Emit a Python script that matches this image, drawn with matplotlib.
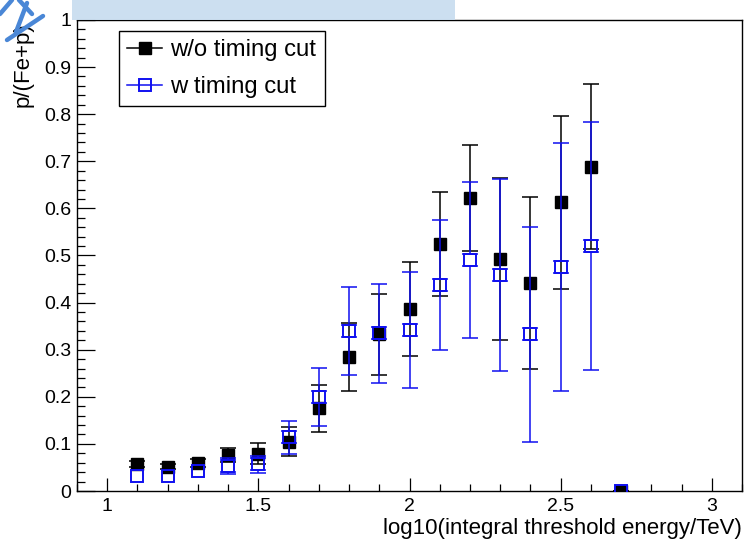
import numpy as np
import matplotlib.pyplot as plt
from matplotlib.ticker import MultipleLocator
from matplotlib.patches import Rectangle
from matplotlib.lines import Line2D

plt.rcParams['font.family'] = ['Liberation Sans', 'DejaVu Sans']

# log10(threshold energy / TeV)
energy = [1.1, 1.2, 1.3, 1.4, 1.5, 1.6, 1.7, 1.8, 1.9, 2.0, 2.1, 2.2, 2.3, 2.4, 2.5, 2.6, 2.7]

# p/(Fe+p) without the timing cut
ratio_nocut = [0.057, 0.052, 0.060, 0.077, 0.079, 0.105, 0.176, 0.284, 0.333, 0.386,
               0.524, 0.622, 0.492, 0.441, 0.613, 0.688, 0.0]
err_nocut = [0.006, 0.005, 0.008, 0.015, 0.022, 0.030, 0.050, 0.072, 0.086, 0.100,
             0.110, 0.113, 0.172, 0.183, 0.184, 0.175, 0.0]

# p/(Fe+p) with the timing cut
ratio_cut = [0.031, 0.031, 0.042, 0.054, 0.057, 0.114, 0.199, 0.340, 0.335, 0.342,
             0.437, 0.490, 0.458, 0.333, 0.475, 0.520, 0.0]
err_cut = [0.0, 0.0, 0.010, 0.017, 0.018, 0.035, 0.062, 0.093, 0.105, 0.124,
           0.138, 0.166, 0.204, 0.228, 0.263, 0.264, 0.0]

fig = plt.figure(figsize=(7.45, 5.39), dpi=100)
ax = fig.add_axes([0.1034, 0.089, 0.8926, 0.874])
ax.set_xlim(0.9, 3.1)
ax.set_ylim(0, 1)

ms = 8.6
blue = '#1010f0'
# black: filled squares, bars run straight through (hidden by the marker)
ax.errorbar(energy, ratio_nocut, yerr=err_nocut, fmt='s', color='black', ms=ms,
            elinewidth=1.1, capsize=5.5, capthick=1.1, zorder=3)

# blue: open squares, the bars stop at the marker edge like ROOT does
x = np.array(energy)
y = np.array(ratio_cut)
e = np.array(err_cut)
fig.canvas.draw()
half = ms / 2 * fig.dpi / 72.0
inv = ax.transData.inverted()
gap = abs(inv.transform((0, half))[1] - inv.transform((0, 0))[1])
seg = np.clip(e - gap, 0, None)
has = seg > 0
zero = np.zeros(has.sum())
ax.errorbar(x[has], y[has] + gap, yerr=[zero, seg[has]], fmt='none', ecolor=blue,
            elinewidth=1.1, capsize=5.5, capthick=1.1, zorder=4)
ax.errorbar(x[has], y[has] - gap, yerr=[seg[has], zero], fmt='none', ecolor=blue,
            elinewidth=1.1, capsize=5.5, capthick=1.1, zorder=4)
ax.plot(x, y, 's', ms=ms, mfc='none', mec=blue, mew=1.4, zorder=5)

# ROOT-style axes: inward ticks, left/bottom only
ax.xaxis.set_major_locator(MultipleLocator(0.5))
ax.xaxis.set_minor_locator(MultipleLocator(0.1))
ax.yaxis.set_major_locator(MultipleLocator(0.1))
ax.yaxis.set_minor_locator(MultipleLocator(0.02))
ax.tick_params(axis='x', which='major', direction='in', length=9.5, width=0.9, labelsize=14, pad=5)
ax.tick_params(axis='x', which='minor', direction='in', length=5, width=0.9)
ax.tick_params(axis='y', which='major', direction='in', length=13, width=0.9, labelsize=14, pad=4)
ax.tick_params(axis='y', which='minor', direction='in', length=6, width=0.9)
ax.xaxis.set_major_formatter(plt.FuncFormatter(lambda v, p: f'{v:g}'))
ax.yaxis.set_major_formatter(plt.FuncFormatter(lambda v, p: f'{v:g}'))
for s in ax.spines.values():
    s.set_linewidth(1.0)

ax.set_xlabel('log10(integral threshold energy/TeV)', fontsize=16, loc='right', labelpad=2)
ax.set_ylabel('p/(Fe+p)', fontsize=16, loc='top')
ax.yaxis.set_label_coords(-0.066, 0.995)

handles = [
    Line2D([], [], color='black', marker='s', ms=ms, lw=1.1),
    Line2D([], [], color=blue, marker='s', ms=ms, mfc='none', mew=1.4, lw=1.1),
]
leg = ax.legend(handles, ['w/o timing cut', 'w timing cut'], loc='upper left',
                bbox_to_anchor=(0.063, 0.977), borderaxespad=0, fontsize=17.2,
                fancybox=False, edgecolor='black', framealpha=1,
                handlelength=1.45, handletextpad=0.35, labelspacing=0.62,
                borderpad=0.35)
leg.get_frame().set_linewidth(1.0)

# pasted header strip and pen stroke at the top of the slide
fig.patches.append(Rectangle((72 / 745, 1 - 20 / 539), (455 - 72) / 745, 20 / 539,
                             transform=fig.transFigure, facecolor='#c7dcef',
                             edgecolor='none', alpha=0.9, zorder=10))
pen = dict(color='#4a87d6', lw=3.2, solid_capstyle='round', transform=fig.transFigure, zorder=11)
for (x0, y0), (x1, y1) in [((0, 14), (12, 0)), ((19, 0), (32, 14)),
                           ((7, 40), (43, 16)), ((27, 3), (16, 32))]:
    fig.lines.append(Line2D([x0 / 745, x1 / 745], [1 - y0 / 539, 1 - y1 / 539], **pen))

fig.savefig('out.png', dpi=100)
